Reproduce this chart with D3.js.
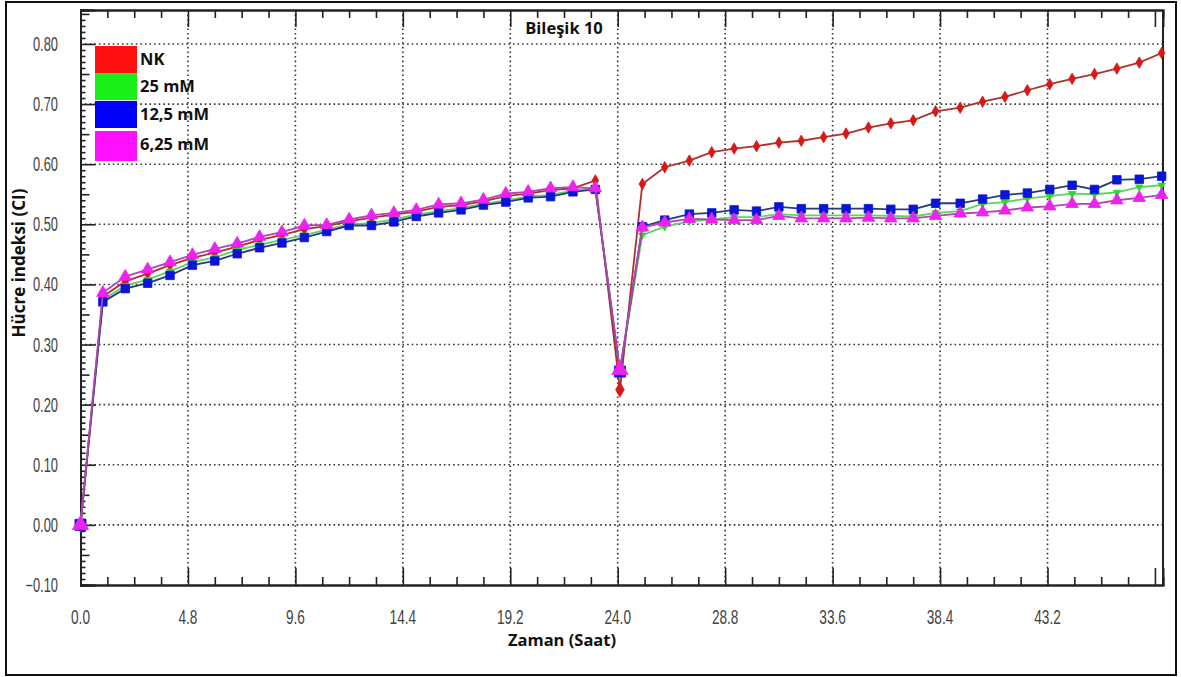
<!DOCTYPE html>
<html>
<head>
<meta charset="utf-8">
<script src="https://cdn.jsdelivr.net/npm/d3@7"></script>
<style>
  html, body { margin: 0; padding: 0; background: #fff; }
  svg { display: block; }
  .tick-label { font-family: "Liberation Sans", Arial, sans-serif; font-size: 19.5px; fill: #444; }
  .bold-label { font-family: "Open Sans", "Noto Sans", sans-serif; font-weight: 700; fill: #111; }
</style>
</head>
<body>
<svg id="chart" width="1181" height="677"></svg>
<script>
// Measurement times (hours)
const times = [0, 1, 2, 3, 4, 5, 6, 7, 8, 9, 10, 11, 12, 13, 14, 15, 16, 17, 18, 19, 20, 21, 22, 23,
  24.1, 25.1, 26.1, 27.2, 28.2, 29.2, 30.2, 31.2, 32.2, 33.2, 34.2, 35.2, 36.2, 37.2, 38.2,
  39.3, 40.3, 41.3, 42.3, 43.3, 44.3, 45.3, 46.3, 47.3, 48.3];

// Cell index per group
const nk = [0.000, 0.380, 0.405, 0.418, 0.432, 0.444, 0.453, 0.463, 0.474, 0.482, 0.492, 0.497,
  0.505, 0.511, 0.516, 0.521, 0.529, 0.532, 0.538, 0.547, 0.551, 0.557, 0.560, 0.573,
  0.225, 0.567, 0.595, 0.606, 0.620, 0.626, 0.630, 0.636, 0.639, 0.645, 0.651, 0.661, 0.668,
  0.673, 0.688, 0.694, 0.704, 0.712, 0.723, 0.733, 0.742, 0.750, 0.759, 0.769, 0.785];

const mM25 = [0.000, 0.375, 0.398, 0.408, 0.422, 0.437, 0.445, 0.457, 0.466, 0.474, 0.482, 0.491,
  0.500, 0.502, 0.508, 0.516, 0.522, 0.527, 0.534, 0.540, 0.546, 0.549, 0.556, 0.560,
  0.257, 0.482, 0.496, 0.505, 0.508, 0.512, 0.512, 0.517, 0.515, 0.515, 0.515, 0.515, 0.514,
  0.513, 0.519, 0.522, 0.534, 0.537, 0.543, 0.547, 0.551, 0.550, 0.553, 0.562, 0.565];

const mM12_5 = [0.000, 0.371, 0.393, 0.402, 0.415, 0.432, 0.439, 0.451, 0.461, 0.469, 0.478, 0.488,
  0.498, 0.498, 0.504, 0.513, 0.519, 0.524, 0.532, 0.537, 0.544, 0.546, 0.554, 0.558,
  0.255, 0.496, 0.507, 0.517, 0.519, 0.524, 0.522, 0.529, 0.526, 0.526, 0.526, 0.526, 0.525,
  0.525, 0.535, 0.535, 0.542, 0.549, 0.552, 0.558, 0.565, 0.558, 0.574, 0.575, 0.580];

const mM6_25 = [0.000, 0.386, 0.413, 0.425, 0.437, 0.449, 0.459, 0.468, 0.479, 0.487, 0.498, 0.499,
  0.508, 0.515, 0.519, 0.524, 0.533, 0.535, 0.541, 0.551, 0.554, 0.560, 0.562, 0.560,
  0.258, 0.495, 0.503, 0.509, 0.508, 0.507, 0.507, 0.514, 0.510, 0.510, 0.510, 0.511, 0.510,
  0.510, 0.514, 0.518, 0.520, 0.523, 0.528, 0.530, 0.534, 0.534, 0.540, 0.544, 0.549];

const seriesNames = ["NK", "25 mM", "12,5 mM", "6,25 mM"];
const xTickValues = [0, 4.8, 9.6, 14.4, 19.2, 24.0, 28.8, 33.6, 38.4, 43.2];
const yTickValues = [-0.10, 0.00, 0.10, 0.20, 0.30, 0.40, 0.50, 0.60, 0.70, 0.80];

const svg = d3.select("#chart");
const plot = { left: 80.5, right: 1163, top: 10, bottom: 585 };

const x = d3.scaleLinear().domain([0, 48.36]).range([plot.left, plot.right]);
const y = d3.scaleLinear().domain([-0.10, 0.8565]).range([plot.bottom, plot.top]);

// outer frame
svg.append("rect").attr("x", 6).attr("y", 2).attr("width", 1170).attr("height", 673)
  .attr("fill", "#fff").attr("stroke", "#111").attr("stroke-width", 2);

// dotted grid
const grid = svg.append("g");
grid.selectAll(".gx").data(xTickValues.filter(d => d > 0)).join("line")
  .attr("x1", d => x(d)).attr("x2", d => x(d))
  .attr("y1", plot.top).attr("y2", plot.bottom)
  .attr("stroke", "#333").attr("stroke-width", 1.6).attr("stroke-dasharray", "1.6,3");
grid.selectAll(".gy").data(yTickValues.filter(d => d > -0.1)).join("line")
  .attr("x1", plot.left).attr("x2", plot.right)
  .attr("y1", d => y(d)).attr("y2", d => y(d))
  .attr("stroke", "#333").attr("stroke-width", 1.6).attr("stroke-dasharray", "1.6,3");

// axes (ticks point inward)
const isMultiple = (v, step) => Math.abs(v / step - Math.round(v / step)) < 1e-6;
const xMinor = d3.range(0, 41).map(i => i * 1.2).filter(v => !isMultiple(v, 4.8));
const xMajor = d3.range(0, 11).map(i => i * 4.8);

function styleAxis(g) {
  g.selectAll("path").attr("stroke", "#222").attr("stroke-width", 2);
  g.selectAll("line").attr("stroke", "#222").attr("stroke-width", 1.6);
}
const addAxis = (axis, tf) => svg.append("g").attr("transform", tf).call(axis).call(styleAxis);
addAxis(d3.axisBottom(x).tickValues(xMinor).tickSize(-8).tickFormat(""), `translate(0,${plot.bottom})`);
addAxis(d3.axisBottom(x).tickValues(xMajor).tickSize(-17).tickFormat(""), `translate(0,${plot.bottom})`);
addAxis(d3.axisTop(x).tickValues(xMinor).tickSize(-8).tickFormat(""), `translate(0,${plot.top})`);
addAxis(d3.axisTop(x).tickValues(xMajor).tickSize(-17).tickFormat(""), `translate(0,${plot.top})`);

const yFine = d3.range(-10, 86).map(i => i / 100).filter(v => !isMultiple(v, 0.1));
const yMid = yFine.filter(v => isMultiple(v, 0.05));
const ySmall = yFine.filter(v => !isMultiple(v, 0.05));
addAxis(d3.axisLeft(y).tickValues(ySmall).tickSize(-5).tickFormat(""), `translate(${plot.left},0)`);
addAxis(d3.axisLeft(y).tickValues(yMid).tickSize(-9).tickFormat(""), `translate(${plot.left},0)`);
addAxis(d3.axisLeft(y).tickValues(yTickValues).tickSize(-15).tickFormat(""), `translate(${plot.left},0)`);

// right border
svg.append("line").attr("x1", plot.right).attr("x2", plot.right)
  .attr("y1", plot.top).attr("y2", plot.bottom).attr("stroke", "#222").attr("stroke-width", 2);

// tick labels (narrow lettering)
svg.append("g").selectAll("text").data(yTickValues).join("text")
  .attr("class", "tick-label")
  .attr("transform", d => `translate(58,${y(d)}) scale(0.66,1)`)
  .attr("dy", "0.36em")
  .attr("text-anchor", "end")
  .text(d => d3.format(".2f")(d));
svg.append("g").selectAll("text").data(xTickValues).join("text")
  .attr("class", "tick-label")
  .attr("transform", d => `translate(${x(d)},624) scale(0.7,1)`)
  .attr("text-anchor", "middle")
  .text(d => d3.format(".1f")(d));

// titles
svg.append("text").attr("class", "bold-label").attr("x", 564).attr("y", 34)
  .attr("text-anchor", "middle").attr("font-size", 16.5).text("Bileşik 10");
svg.append("text").attr("class", "bold-label").attr("x", 562).attr("y", 646)
  .attr("text-anchor", "middle").attr("font-size", 16.5).text("Zaman (Saat)");
svg.append("text").attr("class", "bold-label")
  .attr("transform", "translate(25,263) rotate(-90)")
  .attr("text-anchor", "middle").attr("font-size", 17).text("Hücre indeksi (CI)");

// series
const series = [
  { name: seriesNames[0], values: nk, line: "#b0302c", fill: "#d81818", symbol: d3.symbolDiamond, size: 38, legend: "#ff1010" },
  { name: seriesNames[1], values: mM25, line: "#5ed35e", fill: "#2ed82e", symbol: d3.symbolTriangle, size: 24, legend: "#18f018", flip: true },
  { name: seriesNames[2], values: mM12_5, line: "#283a7c", fill: "#0a14d8", symbol: d3.symbolSquare, size: 72, legend: "#0000f8" },
  { name: seriesNames[3], values: mM6_25, line: "#b444b8", fill: "#ee22ee", symbol: d3.symbolTriangle, size: 68, legend: "#ff10ff" }
];

const lineGen = d3.line().x(d => x(d.t)).y(d => y(d.v));

const marks = svg.append("g");
series.forEach(s => {
  const pts = times.map((t, i) => ({ t, v: s.values[i] }));
  marks.append("path").datum(pts).attr("d", lineGen)
    .attr("fill", "none").attr("stroke", s.line).attr("stroke-width", 1.8);
  marks.append("g").selectAll("path").data(pts).join("path")
    .attr("d", (d, i) => d3.symbol().type(s.symbol).size((i === 0 || i === 24) ? s.size * 1.7 : s.size)())
    .attr("transform", d => `translate(${x(d.t)},${y(d.v)})${s.flip ? " rotate(180)" : ""}`)
    .attr("fill", s.fill).attr("stroke", s.fill).attr("stroke-width", 0.8);
});

// legend
const legend = svg.append("g");
const rowTops = [46, 73, 101, 131];
series.forEach((s, i) => {
  legend.append("rect").attr("x", 95).attr("y", rowTops[i])
    .attr("width", 42).attr("height", i === 3 ? 30 : 27).attr("fill", s.legend);
  legend.append("text").attr("class", "bold-label").attr("x", 140).attr("y", rowTops[i] + 13)
    .attr("dy", "0.35em").attr("font-size", 16.5).text(s.name);
});
</script>
</body>
</html>
